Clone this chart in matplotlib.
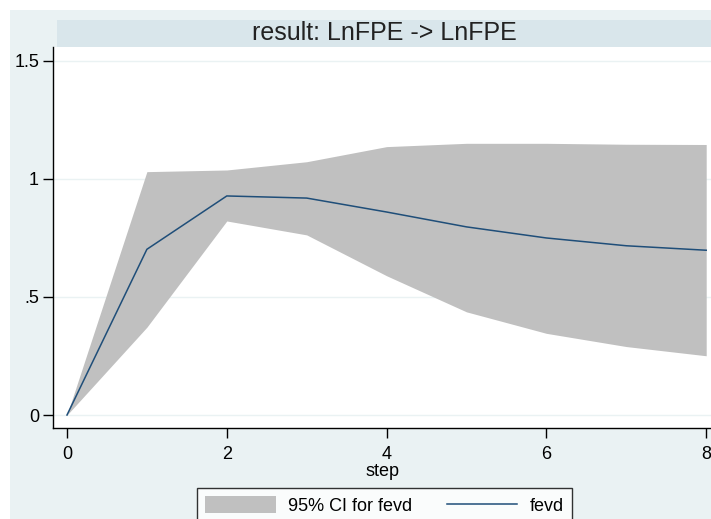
import matplotlib
matplotlib.use("Agg")
import matplotlib.pyplot as plt
from matplotlib.patches import Rectangle, Patch
from matplotlib.lines import Line2D

plt.rcParams['font.family'] = ['Liberation Sans', 'DejaVu Sans']

steps = [0, 1, 2, 3, 4, 5, 6, 7, 8]
fevd = [0.0, 0.702, 0.928, 0.919, 0.860, 0.797, 0.750, 0.717, 0.698]
ci_upper = [0.0, 1.031, 1.038, 1.073, 1.137, 1.151, 1.151, 1.147, 1.146]
ci_lower = [0.0, 0.372, 0.822, 0.763, 0.590, 0.437, 0.346, 0.290, 0.251]
xticks = [0, 2, 4, 6, 8]
yticks = [0, 0.5, 1, 1.5]
ytick_labels = ["0", ".5", "1", "1.5"]
title = "result: LnFPE -> LnFPE"

W, H = 711, 519
fig = plt.figure(figsize=(W / 100, H / 100), dpi=100, facecolor="white")

def fx(px):
    return px / W

def fy(py):
    return 1 - py / H

bg = "#EAF2F3"
fig.patches.append(Rectangle((fx(10), 0), 1 - fx(10), fy(10), transform=fig.transFigure,
                             facecolor=bg, edgecolor="none", zorder=-10))
fig.patches.append(Rectangle((fx(57), fy(47)), 1 - fx(57), (47 - 20) / H, transform=fig.transFigure,
                             facecolor="#D9E6EB", edgecolor="none", zorder=-5))
fig.text((fx(57) + 1) / 2, fy(33.5), title, ha="center", va="center", fontsize=18, color="#222222")

ax = fig.add_axes([fx(53), fy(428), 1 - fx(53), (428 - 47) / H])
ax.set_facecolor("white")
ax.fill_between(steps, ci_lower, ci_upper, color="#C0C0C0", linewidth=0, zorder=2)
ax.plot(steps, fevd, color="#1F4E79", linewidth=1.1, zorder=3)

ax.set_xlim(-0.175, 8.06)
ax.set_ylim(-0.055, 1.559)
ax.set_xticks(xticks)
ax.set_xticklabels([str(t) for t in xticks])
ax.set_yticks(yticks)
ax.set_yticklabels(ytick_labels)
ax.grid(axis="y", color="#EAF2F3", linewidth=1.0, zorder=1)
ax.set_axisbelow(True)
for s in ["top", "right"]:
    ax.spines[s].set_visible(False)
for s in ["left", "bottom"]:
    ax.spines[s].set_color("black")
    ax.spines[s].set_linewidth(1.0)
ax.tick_params(axis="both", direction="out", length=7, width=1, colors="black", labelsize=13)
ax.tick_params(axis="x", pad=6)
ax.tick_params(axis="y", pad=3)
ax.set_xlabel("step", fontsize=13, labelpad=0)

handles = [Patch(facecolor="#C0C0C0", edgecolor="none"),
           Line2D([0], [0], color="#1F4E79", linewidth=1.1)]
leg = fig.legend(handles, ["95% CI for fevd", "fevd"], loc="upper left",
                 bbox_to_anchor=(fx(197), fy(488)), ncol=2, fontsize=13,
                 frameon=True, fancybox=False, handlelength=3.9, handleheight=1.1,
                 handletextpad=0.7, columnspacing=1.9, borderpad=0.45, borderaxespad=0)
leg.get_frame().set_edgecolor("black")
leg.get_frame().set_linewidth(1.0)
leg.get_frame().set_facecolor("white")

fig.savefig("out.png", dpi=100, facecolor="white")
